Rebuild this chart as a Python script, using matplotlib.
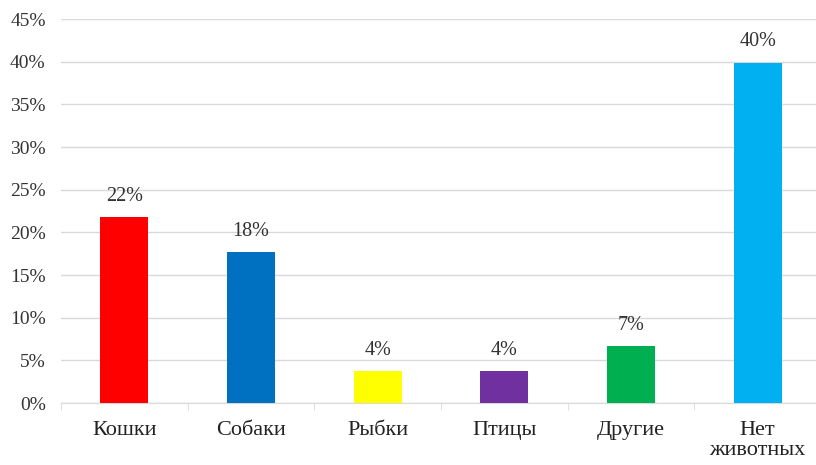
import matplotlib.pyplot as plt
from matplotlib.ticker import FuncFormatter, FixedLocator

plt.rcParams['font.family'] = ['Liberation Serif', 'DejaVu Serif']

categories = ['Кошки', 'Собаки', 'Рыбки', 'Птицы', 'Другие', 'Нет\nживотных']
values = [21.8, 17.7, 3.7, 3.7, 6.7, 39.9]
labels = ['22%', '18%', '4%', '4%', '7%', '40%']
colors = ['#FF0000', '#0070C0', '#FFFF00', '#7030A0', '#00B050', '#00B0F0']

fig = plt.figure(figsize=(8.16, 4.65), dpi=100)
ax = fig.add_axes([61 / 816, 1 - 403 / 465, (821 - 61) / 816, (403 - 19) / 465])

x = list(range(len(categories)))
bars = ax.bar(x, values, width=0.38, color=colors, zorder=3)
ax.bar_label(bars, labels=labels, padding=8, fontsize=14.5, color='#333333')

ax.set_xlim(-0.5, len(categories) - 0.5)
ax.set_ylim(0, 45)
ax.set_yticks(range(0, 46, 5))
ax.yaxis.set_major_formatter(FuncFormatter(lambda v, p: f'{v:.0f}%'))
ax.grid(axis='y', color='#D9D9D9', linewidth=1, zorder=0)

ax.set_xticks(x)
ax.set_xticklabels(categories, fontsize=16, color='#222222', linespacing=1.05)
ax.xaxis.set_minor_locator(FixedLocator([i - 0.5 for i in range(len(categories) + 1)]))
ax.tick_params(axis='x', which='major', length=0, pad=13)
ax.tick_params(axis='x', which='minor', length=5, color='#D9D9D9')
ax.tick_params(axis='y', length=0, labelsize=14, labelcolor='#333333', pad=11)

for s in ['top', 'right', 'left']:
    ax.spines[s].set_visible(False)
ax.spines['bottom'].set_color('#D9D9D9')

fig.savefig('out.png', dpi=100)
